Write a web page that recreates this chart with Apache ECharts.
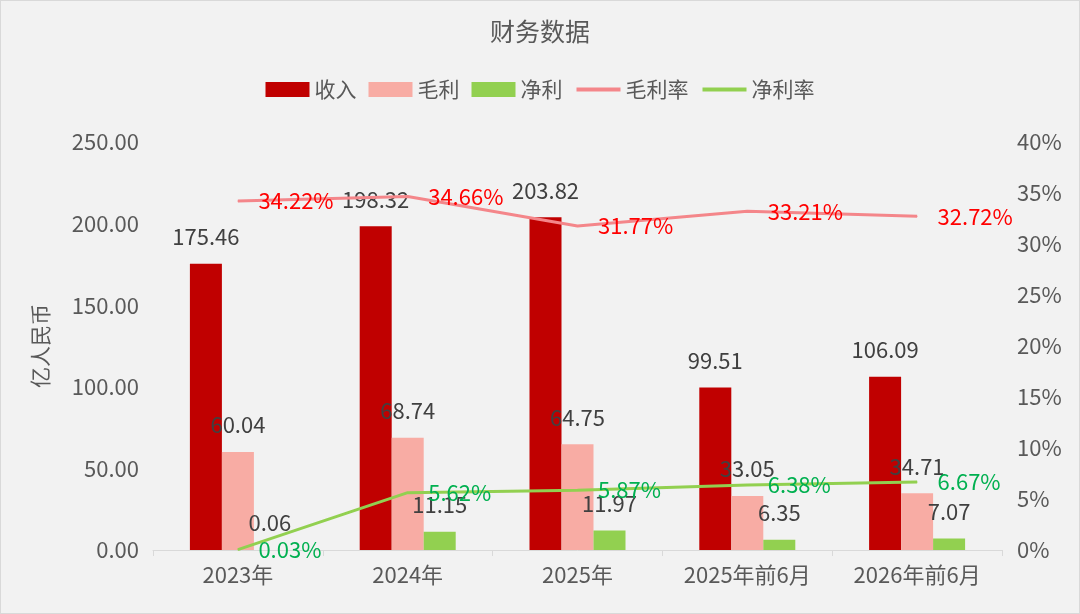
<!DOCTYPE html>
<html><head><meta charset="utf-8">
<script src="https://cdn.jsdelivr.net/npm/echarts@6/dist/echarts.min.js"></script>
<style>html,body{margin:0;padding:0;background:#F2F2F2;}#c{width:1080px;height:614px;box-sizing:border-box;border:1px solid #D9D9D9;}</style>
</head><body><div id="c"></div>
<script>
var categories = ['2023年','2024年','2025年','2025年前6月','2026年前6月'];
var revenue = [175.46, 198.32, 203.82, 99.51, 106.09];
var grossProfit = [60.04, 68.74, 64.75, 33.05, 34.71];
var netProfit = [0.06, 11.15, 11.97, 6.35, 7.07];
var grossMargin = [34.22, 34.66, 31.77, 33.21, 32.72];
var netMargin = [0.03, 5.62, 5.87, 6.38, 6.67];

var FONT = '"Noto Sans CJK SC","Noto Sans",sans-serif';
var chart = echarts.init(document.getElementById('c'));
var barLabel = {show:true, position:'top', distance:16, color:'#404040', fontSize:22, fontFamily:FONT,
  formatter:function(p){return p.value.toFixed(2);}};
function pct(p){return p.value.toFixed(2)+'%';}
chart.setOption({
  backgroundColor:'#F2F2F2',
  textStyle:{fontFamily:FONT},
  title:{text:'财务数据', left:'center', top:13, textStyle:{color:'#595959', fontSize:25, fontWeight:'normal', fontFamily:FONT}},
  legend:{top:73, left:'center', itemGap:12, itemWidth:44, itemHeight:15,
    textStyle:{color:'#595959', fontSize:21, fontFamily:FONT},
    data:[{name:'收入',icon:'rect'},{name:'毛利',icon:'rect'},{name:'净利',icon:'rect'},
      {name:'毛利率', itemStyle:{opacity:0}, lineStyle:{width:4}},{name:'净利率', itemStyle:{opacity:0}, lineStyle:{width:4}}]},
  grid:{left:152, right:77, top:141, bottom:63},
  xAxis:{type:'category', data:categories,
    axisLine:{lineStyle:{color:'#D9D9D9'}},
    axisTick:{show:true, lineStyle:{color:'#D9D9D9'}, length:6},
    axisLabel:{color:'#595959', fontSize:22, margin:14, fontFamily:FONT}},
  yAxis:[{type:'value', min:0, max:250, interval:50, name:'亿人民币', nameLocation:'middle', nameGap:102, nameRotate:90,
      nameTextStyle:{color:'#595959', fontSize:21, fontFamily:FONT},
      splitLine:{show:false}, axisLine:{show:false}, axisTick:{show:false},
      axisLabel:{color:'#595959', fontSize:22, margin:14, fontFamily:FONT, formatter:function(v){return v.toFixed(2);}}},
    {type:'value', min:0, max:40, interval:5, splitLine:{show:false}, axisLine:{show:false}, axisTick:{show:false},
      axisLabel:{color:'#595959', fontSize:22, margin:15, fontFamily:FONT, formatter:'{value}%'}}],
  series:[
    {name:'收入', type:'bar', data:revenue, barWidth:32, barGap:'0%', itemStyle:{color:'#C00000'}, label:barLabel},
    {name:'毛利', type:'bar', data:grossProfit, barWidth:32, barGap:'0%', itemStyle:{color:'#F8ACA4'}, label:barLabel},
    {name:'净利', type:'bar', data:netProfit, barWidth:32, barGap:'0%', itemStyle:{color:'#92D050'}, label:barLabel},
    {name:'毛利率', type:'line', yAxisIndex:1, data:grossMargin, symbol:'circle', symbolSize:1, z:5,
      lineStyle:{color:'#F4868A', width:3}, itemStyle:{color:'#F4868A'},
      label:{show:true, position:'right', distance:20, color:'#FF0000', fontSize:22, fontFamily:FONT, formatter:pct}},
    {name:'净利率', type:'line', yAxisIndex:1, data:netMargin, symbol:'circle', symbolSize:1, z:5,
      lineStyle:{color:'#92D050', width:3}, itemStyle:{color:'#92D050'},
      label:{show:true, position:'right', distance:20, color:'#00B050', fontSize:22, fontFamily:FONT, formatter:pct}}
  ]
});
</script></body></html>
